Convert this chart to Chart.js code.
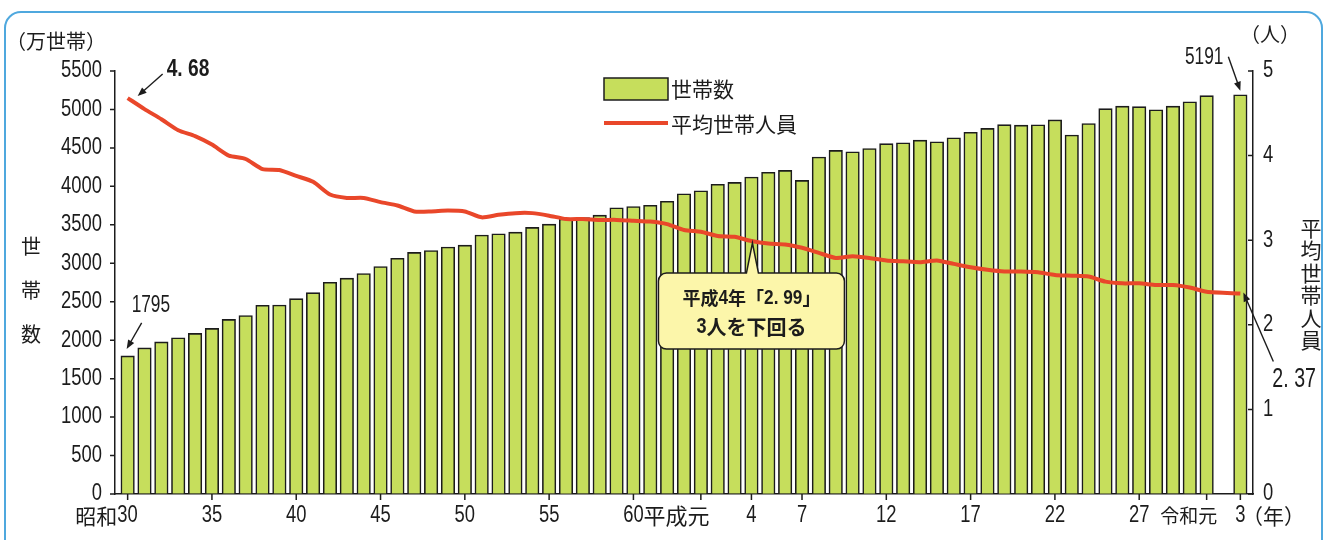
<!DOCTYPE html>
<html lang="ja">
<head>
<meta charset="utf-8">
<title>世帯数と平均世帯人員の推移</title>
<script src="https://cdn.jsdelivr.net/npm/chart.js@4"></script>
<style>
  html, body { margin: 0; padding: 0; background: #fff; }
  #wrap { width: 1327px; height: 540px; }
</style>
</head>
<body>
<div id="wrap"><canvas id="chart" width="1327" height="540"></canvas></div>
<script>
// 年（西暦） 昭和30年～令和3年 ※令和2年は調査なし
const years = [
  1955, 1956, 1957, 1958, 1959, 1960, 1961, 1962, 1963, 1964,
  1965, 1966, 1967, 1968, 1969, 1970, 1971, 1972, 1973, 1974,
  1975, 1976, 1977, 1978, 1979, 1980, 1981, 1982, 1983, 1984,
  1985, 1986, 1987, 1988, 1989, 1990, 1991, 1992, 1993, 1994,
  1995, 1996, 1997, 1998, 1999, 2000, 2001, 2002, 2003, 2004,
  2005, 2006, 2007, 2008, 2009, 2010, 2011, 2012, 2013, 2014,
  2015, 2016, 2017, 2018, 2019, 2020, 2021
];

// 世帯数（万世帯）
const households = [
  1795, 1900, 1977, 2032, 2088, 2153, 2270, 2321, 2454, 2458,
  2540, 2618, 2752, 2807, 2867, 2958, 3065, 3141, 3165, 3211,
  3236, 3368, 3384, 3404, 3466, 3509, 3577, 3593, 3626, 3722,
  3738, 3754, 3806, 3903, 3942, 4027, 4051, 4121, 4183, 4207,
  4077, 4381, 4467, 4450, 4492, 4555, 4566, 4601, 4580, 4632,
  4704, 4753, 4802, 4796, 4801, 4864, 4668, 4817, 5011, 5043,
  5036, 4995, 5043, 5099, 5179, null, 5191
];

// 平均世帯人員（人）
const avgMembers = [
  4.68, 4.55, 4.43, 4.30, 4.23, 4.13, 4.00, 3.96, 3.84, 3.83,
  3.76, 3.69, 3.54, 3.50, 3.50, 3.45, 3.41, 3.34, 3.34, 3.35,
  3.34, 3.27, 3.30, 3.32, 3.32, 3.29, 3.25, 3.25, 3.24, 3.24,
  3.23, 3.22, 3.19, 3.12, 3.10, 3.05, 3.04, 2.99, 2.96, 2.95,
  2.91, 2.85, 2.79, 2.81, 2.79, 2.76, 2.75, 2.74, 2.76, 2.72,
  2.68, 2.65, 2.63, 2.63, 2.62, 2.59, 2.58, 2.57, 2.51, 2.49,
  2.49, 2.47, 2.47, 2.44, 2.39, null, 2.37
];

// 目盛
const leftTicks = [0, 500, 1000, 1500, 2000, 2500, 3000, 3500, 4000, 4500, 5000, 5500];
const rightTicks = [0, 1, 2, 3, 4, 5];
const xTickYears = [1955, 1960, 1965, 1970, 1975, 1980, 1985, 1989, 1992, 1995, 2000, 2005, 2010, 2015, 2019, 2021];
const xTickLabels = ['昭和30', '35', '40', '45', '50', '55', '60', '平成元', '4', '7', '12', '17', '22', '27', '令和元', '3'];

const FONT_NUM = "'Liberation Sans', Arial, sans-serif";
const FONT_JP = "'Noto Sans CJK JP', sans-serif";
const INK = '#1c1c1c';
const BAR_FILL = '#c6de5c';
const LINE_COLOR = '#e9472a';

// 数字は細長い書体に見せるため横方向に縮めて描く
function drawMixed(ctx, text, x, y, align, opt) {
  const o = Object.assign({ num: 23, jp: 21, sx: 0.8, bold: false }, opt || {});
  const w = o.bold ? 'bold ' : '';
  const parts = text.match(/[0-9. ]+|[^0-9. ]+/g);
  const isNum = p => /^[0-9. ]+$/.test(p);
  const widths = parts.map(p => {
    ctx.font = isNum(p) ? w + o.num + 'px ' + FONT_NUM : w + o.jp + 'px ' + FONT_JP;
    return ctx.measureText(p).width * (isNum(p) ? o.sx : 1);
  });
  const total = widths.reduce((a, b) => a + b, 0);
  let cx = align === 'center' ? x - total / 2 : align === 'right' ? x - total : x;
  ctx.save();
  ctx.textAlign = 'left';
  ctx.textBaseline = 'middle';
  parts.forEach((p, i) => {
    ctx.save();
    ctx.font = isNum(p) ? w + o.num + 'px ' + FONT_NUM : w + o.jp + 'px ' + FONT_JP;
    ctx.translate(cx, y);
    if (isNum(p)) ctx.scale(o.sx, 1);
    ctx.fillText(p, 0, 0);
    ctx.restore();
    cx += widths[i];
  });
  ctx.restore();
}

function drawArrow(ctx, x1, y1, x2, y2) {
  const a = Math.atan2(y2 - y1, x2 - x1);
  const len = 9, half = 3.5;
  const c = Math.cos(a), s = Math.sin(a);
  ctx.beginPath();
  ctx.moveTo(x1, y1);
  ctx.lineTo(x2 - c * len * 0.7, y2 - s * len * 0.7);
  ctx.stroke();
  ctx.beginPath();
  ctx.moveTo(x2, y2);
  ctx.lineTo(x2 - c * len + s * half, y2 - s * len - c * half);
  ctx.lineTo(x2 - c * len - s * half, y2 - s * len + c * half);
  ctx.closePath();
  ctx.fill();
}

// 枠・目盛・凡例・注記など
const decor = {
  id: 'decor',
  beforeDraw(chart) {
    const ctx = chart.ctx;
    ctx.save();
    ctx.fillStyle = '#fff';
    ctx.fillRect(0, 0, chart.width, chart.height);
    ctx.strokeStyle = '#4fa8de';
    ctx.lineWidth = 2;
    ctx.beginPath();
    ctx.roundRect(5, 12, 1317, 600, 16);
    ctx.stroke();
    ctx.restore();
  },
  afterDatasetsDraw(chart) {
    // 吹き出し「平成4年」
    const ctx = chart.ctx;
    const xs = chart.scales.x, r = chart.scales.y1;
    const i = years.indexOf(1992);
    const ax = xs.getPixelForValue(1992) + 1, ay = r.getPixelForValue(avgMembers[i]) + 2;
    const left = ax - 94, right = ax + 92, top = ay + 30, bottom = ay + 106;
    ctx.save();
    ctx.fillStyle = '#fcf6aa';
    ctx.strokeStyle = INK;
    ctx.lineWidth = 1.5;
    ctx.beginPath();
    ctx.moveTo(left + 8, top);
    ctx.lineTo(ax - 6, top);
    ctx.lineTo(ax, ay);
    ctx.lineTo(ax + 6, top);
    ctx.lineTo(right - 8, top);
    ctx.arcTo(right, top, right, top + 8, 8);
    ctx.lineTo(right, bottom - 8);
    ctx.arcTo(right, bottom, right - 8, bottom, 8);
    ctx.lineTo(left + 8, bottom);
    ctx.arcTo(left, bottom, left, bottom - 8, 8);
    ctx.lineTo(left, top + 8);
    ctx.arcTo(left, top, left + 8, top, 8);
    ctx.closePath();
    ctx.fill();
    ctx.stroke();
    ctx.fillStyle = INK;
    const cx = (left + right) / 2;
    drawMixed(ctx, '平成4年「2. 99」', cx, top + 25, 'center', { num: 21, jp: 18, sx: 0.82, bold: true });
    drawMixed(ctx, '3人を下回る', cx, top + 54, 'center', { num: 22, jp: 20, sx: 0.82, bold: true });
    ctx.restore();
  },
  afterDraw(chart) {
    const ctx = chart.ctx;
    const area = chart.chartArea;
    const xs = chart.scales.x, ly = chart.scales.y, ry = chart.scales.y1;
    ctx.save();
    ctx.strokeStyle = INK;
    ctx.fillStyle = INK;
    ctx.lineWidth = 1.5;

    // 目盛線
    ctx.beginPath();
    leftTicks.forEach(v => {
      const y = ly.getPixelForValue(v);
      ctx.moveTo(area.left - 5, y);
      ctx.lineTo(area.left, y);
    });
    rightTicks.forEach(v => {
      const y = ry.getPixelForValue(v);
      ctx.moveTo(area.right - 5, y);
      ctx.lineTo(area.right, y);
    });
    xTickYears.forEach(yr => {
      const x = xs.getPixelForValue(yr);
      ctx.moveTo(x, area.bottom);
      ctx.lineTo(x, area.bottom + 6);
    });
    ctx.stroke();

    // 縦軸の目盛ラベル
    leftTicks.forEach(v => drawMixed(ctx, String(v), area.left - 13, ly.getPixelForValue(v), 'right', { num: 23, sx: 0.8 }));
    rightTicks.forEach(v => drawMixed(ctx, String(v), area.right + 10, ry.getPixelForValue(v), 'left', { num: 23, sx: 0.8 }));

    // 横軸ラベル
    const ly0 = area.bottom + 22;
    xTickLabels.forEach((lab, k) => {
      const x = xs.getPixelForValue(xTickYears[k]);
      if (lab === '昭和30') {
        drawMixed(ctx, lab, x + 10, ly0, 'right');
      } else if (lab === '平成元') {
        drawMixed(ctx, lab, xs.getPixelForValue(1985) + 10, ly0, 'left', { jp: 22 });
      } else if (lab === '令和元') {
        drawMixed(ctx, lab, x - 18, ly0, 'center', { jp: 19 });
      } else {
        drawMixed(ctx, lab, x, ly0, 'center');
      }
    });
    drawMixed(ctx, '（年）', 1242, ly0, 'left', { jp: 21 });

    // 軸タイトル
    ctx.textBaseline = 'middle';
    ctx.textAlign = 'left';
    ctx.font = '20px ' + FONT_JP;
    ctx.fillText('（万世帯）', 6, 41);
    ctx.fillText('（人）', 1240, 34);
    ctx.textAlign = 'center';
    ['世', '帯', '数'].forEach((ch, k) => ctx.fillText(ch, 31, 246 + k * 44));
    ctx.font = '21px ' + FONT_JP;
    ['平', '均', '世', '帯', '人', '員'].forEach((ch, k) => ctx.fillText(ch, 1311, 228 + k * 22.5));

    // 凡例
    ctx.fillStyle = BAR_FILL;
    ctx.fillRect(604, 78, 64, 22);
    ctx.strokeRect(604, 78, 64, 22);
    ctx.strokeStyle = LINE_COLOR;
    ctx.lineWidth = 4;
    ctx.beginPath();
    ctx.moveTo(604, 123);
    ctx.lineTo(668, 123);
    ctx.stroke();
    ctx.fillStyle = INK;
    ctx.textAlign = 'left';
    ctx.font = '21px ' + FONT_JP;
    ctx.fillText('世帯数', 671, 89);
    ctx.fillText('平均世帯人員', 671, 124);

    // 注記と矢印
    ctx.strokeStyle = INK;
    ctx.lineWidth = 1.4;
    const last = years.length - 1;
    const x0 = xs.getPixelForValue(years[0]);
    const xN = xs.getPixelForValue(years[last]);

    const pA = { x: x0, y: ry.getPixelForValue(avgMembers[0]) };
    drawArrow(ctx, pA.x + 35, pA.y - 24, pA.x + 10, pA.y - 2);
    drawMixed(ctx, avgMembers[0].toFixed(2).replace('.', '. '), pA.x + 39, pA.y - 29, 'left', { num: 24, sx: 0.8, bold: true });

    const pB = { x: x0, y: ly.getPixelForValue(households[0]) };
    drawArrow(ctx, pB.x + 14, pB.y - 33, pB.x - 1, pB.y - 7);
    drawMixed(ctx, String(households[0]), pB.x + 4, pB.y - 51, 'left', { num: 24, sx: 0.72 });

    const pC = { x: xN, y: ly.getPixelForValue(households[last]) };
    drawArrow(ctx, pC.x - 12, pC.y - 38, pC.x, pC.y - 4);
    drawMixed(ctx, String(households[last]), pC.x - 17, pC.y - 37, 'right', { num: 24, sx: 0.72 });

    const pD = { x: xN, y: ry.getPixelForValue(avgMembers[last]) };
    drawArrow(ctx, pD.x + 33, pD.y + 68, pD.x + 3, pD.y - 1);
    drawMixed(ctx, avgMembers[last].toFixed(2).replace('.', '. '), pD.x + 32, pD.y + 86, 'left', { num: 28, sx: 0.7 });

    ctx.restore();
  }
};

const pts = vals => years.map((yr, i) => ({ x: yr, y: vals[i] }));

new Chart(document.getElementById('chart'), {
  type: 'bar',
  data: {
    datasets: [
      {
        type: 'line',
        label: '平均世帯人員',
        data: pts(avgMembers),
        yAxisID: 'y1',
        borderColor: LINE_COLOR,
        borderWidth: 4,
        pointRadius: 0,
        tension: 0.2,
        spanGaps: true,
        order: 0
      },
      {
        type: 'bar',
        label: '世帯数',
        data: pts(households),
        yAxisID: 'y',
        backgroundColor: BAR_FILL,
        borderColor: INK,
        borderWidth: 1.6,
        barThickness: 13.5,
        order: 1
      }
    ]
  },
  options: {
    responsive: false,
    animation: false,
    layout: { padding: { top: 71, left: 0, right: 0, bottom: 0 } },
    plugins: {
      legend: { display: false },
      tooltip: { enabled: false }
    },
    scales: {
      x: {
        type: 'linear',
        min: 1954.25,
        max: 2021.75,
        offset: false,
        grid: { display: false },
        border: { display: true, color: INK, width: 1.5 },
        ticks: { display: false },
        afterFit(s) { s.height = 46; }
      },
      y: {
        position: 'left',
        min: 0,
        max: 5500,
        ticks: { display: false, stepSize: 500 },
        grid: { drawOnChartArea: false, drawTicks: false },
        border: { display: true, color: INK, width: 1.5 },
        afterFit(s) { s.width = 115; }
      },
      y1: {
        position: 'right',
        min: 0,
        max: 5,
        ticks: { display: false, stepSize: 1 },
        grid: { drawOnChartArea: false, drawTicks: false },
        border: { display: true, color: INK, width: 1.5 },
        afterFit(s) { s.width = 74; }
      }
    }
  },
  plugins: [decor]
});
</script>
</body>
</html>
